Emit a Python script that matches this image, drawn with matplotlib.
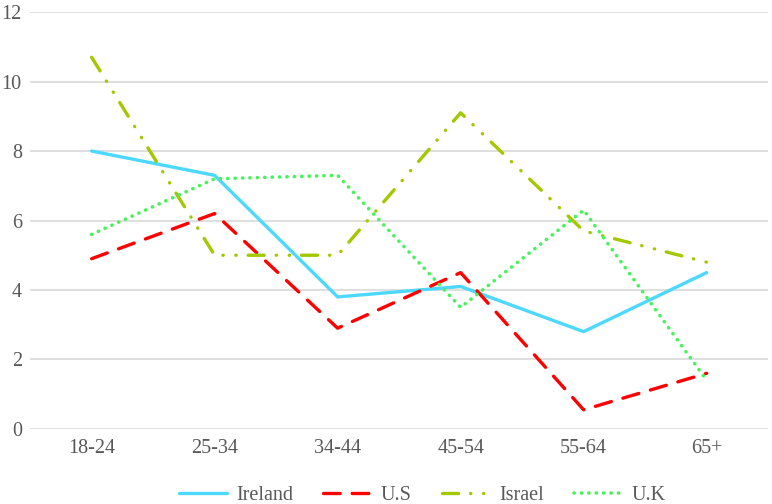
import matplotlib
matplotlib.use("Agg")
import matplotlib.pyplot as plt

categories = ["18-24", "25-34", "34-44", "45-54", "55-64", "65+"]
ireland = [8.0, 7.3, 3.8, 4.1, 2.8, 4.5]
us = [4.9, 6.2, 2.9, 4.5, 0.55, 1.6]
israel = [10.7, 5.0, 5.0, 9.1, 5.7, 4.8]
uk = [5.6, 7.2, 7.3, 3.5, 6.3, 1.4]
yticks = [0, 2, 4, 6, 8, 10, 12]

plt.rcParams['font.family'] = ['Liberation Serif', 'DejaVu Serif']

fig = plt.figure(figsize=(7.72, 5.04), dpi=100)
ax = fig.add_axes([0.039, 0.149, 0.956, 0.827])

x = list(range(len(categories)))
lw = 2.4
ax.plot(x, ireland, color="#4DD8FF", lw=lw, solid_capstyle='round', label="Ireland", zorder=3)
ax.plot(x, us, color="#FF0000", lw=lw, dashes=(5.0, 3.6), dash_capstyle='round', label="U.S", zorder=3)
ax.plot(x, israel, color="#A2C800", lw=lw, dashes=(4.8, 3.6, 0.1, 3.8, 0.1, 3.6), dash_capstyle='round', label="Israel", zorder=3)
ax.plot(x, uk, color="#47F25A", lw=2.6, dashes=(0.05, 2.0), dash_capstyle='round', label="U.K", zorder=3)

ax.set_xlim(-0.5, len(categories) - 0.5)
ax.set_ylim(0, 12)
ax.set_yticks(yticks)
ax.set_xticks(x)
ax.set_xticklabels(categories)
ax.grid(axis='y', color="#D9D9D9", lw=1.2)
ax.set_axisbelow(True)
for s in ax.spines.values():
    s.set_visible(False)
ax.tick_params(length=0, labelsize=14.5, colors="#595959")
ax.tick_params(axis='x', pad=7)
ax.tick_params(axis='y', pad=6)

leg = fig.legend(loc='lower center', bbox_to_anchor=(0.547, -0.038), ncol=4, frameon=False,
                 fontsize=14.5, handlelength=2.4, columnspacing=1.5, handletextpad=0.45)
for t in leg.get_texts():
    t.set_color("#595959")

fig.savefig("out.png", dpi=100)
